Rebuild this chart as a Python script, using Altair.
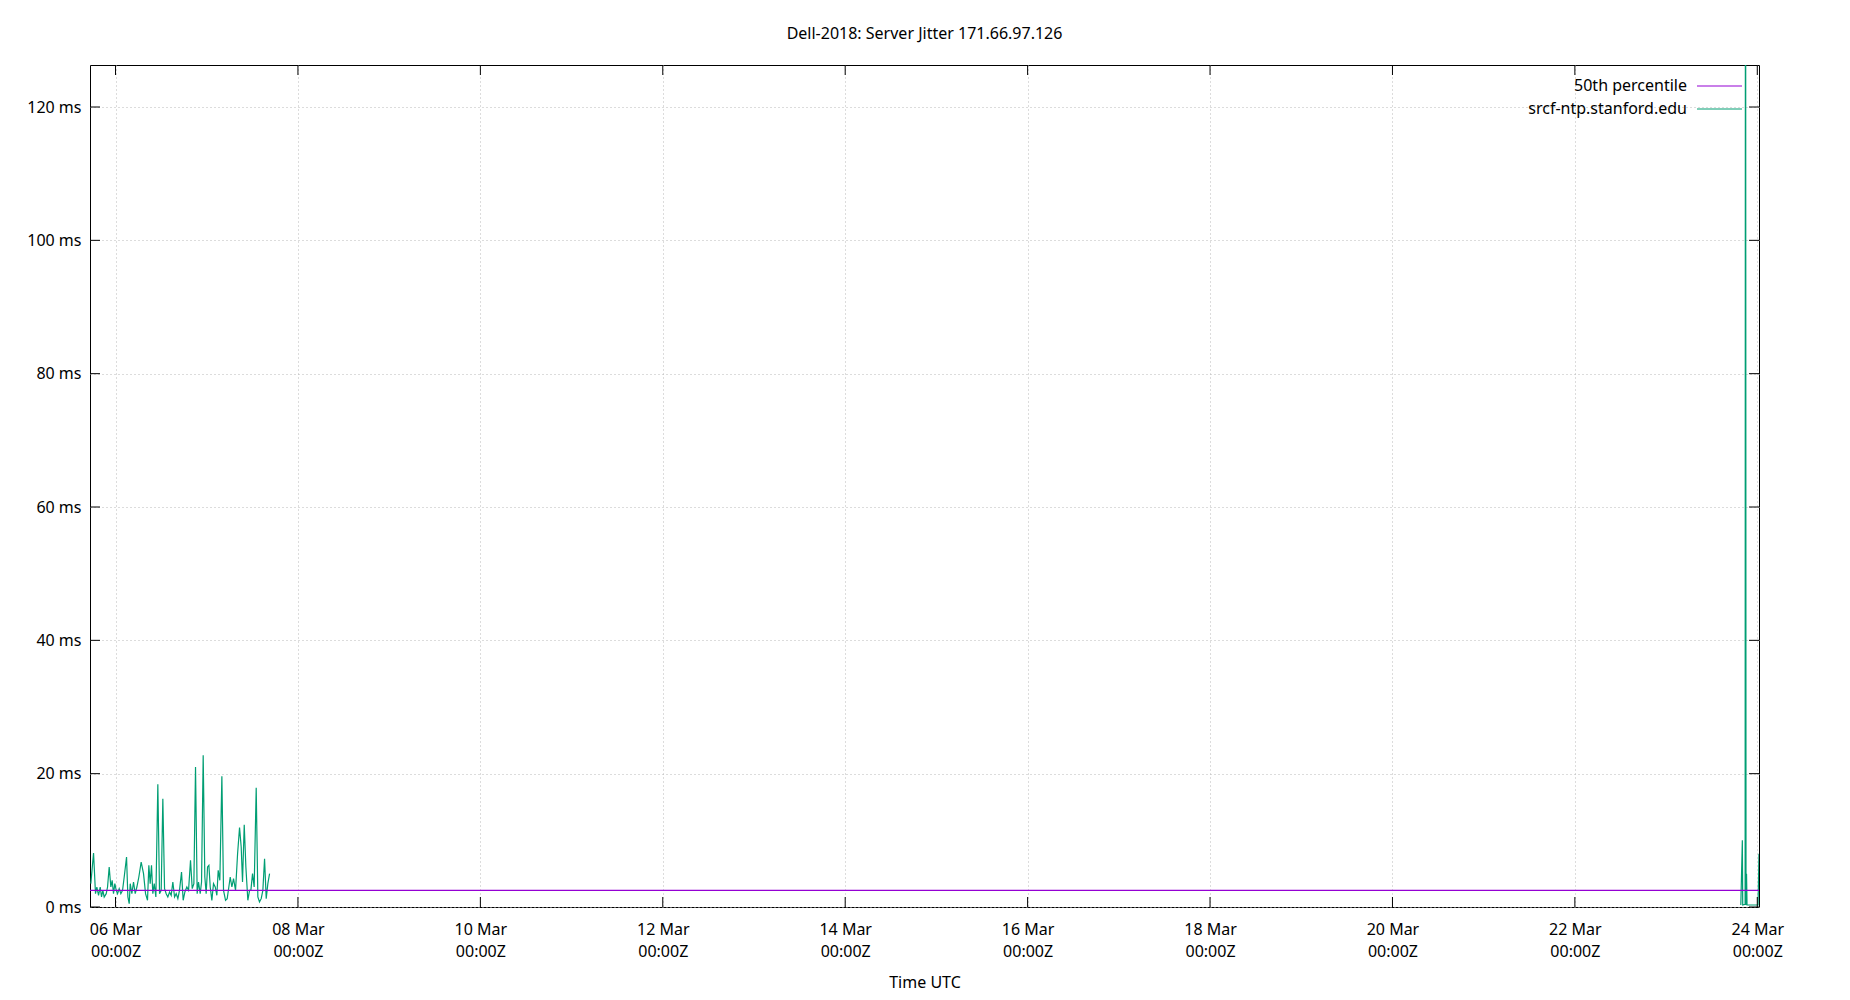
import altair as alt
import pandas as pd

title_text = "Dell-2018: Server Jitter 171.66.97.126"
series_names = ["50th percentile", "srcf-ntp.stanford.edu"]
series_colors = ["#9400d3", "#009e73"]
x_title = "Time UTC"

# srcf-ntp.stanford.edu jitter, first block (day "DDTHH:MM" in March 2018, UTC)
times_a = [
    "05T17:30", "05T18:13", "05T18:44", "05T19:05", "05T19:32", "05T19:58", "05T20:19", "05T20:40", "05T21:01", "05T21:33",
    "05T21:54", "05T22:20", "05T22:46", "05T23:07", "05T23:28", "05T23:49", "06T00:11", "06T00:32", "06T00:58", "06T01:24",
    "06T01:51", "06T02:17", "06T02:54", "06T03:15", "06T03:36", "06T03:52", "06T04:18", "06T04:44", "06T05:11", "06T05:37",
    "06T06:08", "06T06:45", "06T07:22", "06T07:54", "06T08:25", "06T08:46", "06T09:07", "06T09:28", "06T09:49", "06T10:11",
    "06T10:37", "06T11:08", "06T11:35", "06T12:01", "06T12:27", "06T12:54", "06T13:20", "06T13:46", "06T14:13", "06T14:39",
    "06T15:05", "06T15:32", "06T15:58", "06T16:24", "06T16:50", "06T17:22", "06T17:48", "06T18:15", "06T18:46", "06T19:13",
    "06T19:44", "06T20:11", "06T20:37", "06T21:03", "06T21:29", "06T21:50", "06T22:17", "06T22:38", "06T23:04", "06T23:30",
    "06T23:51", "07T00:13", "07T00:34", "07T00:55", "07T01:21", "07T01:47", "07T02:14", "07T02:40", "07T03:01", "07T03:27",
    "07T03:59", "07T04:25", "07T04:57", "07T05:23", "07T05:49", "07T06:11", "07T06:37", "07T07:03", "07T07:35", "07T08:07",
    "07T08:38", "07T09:04", "07T09:25", "07T09:52", "07T10:18", "07T10:49", "07T11:16", "07T11:37", "07T12:03", "07T12:29",
    "07T13:01", "07T13:27", "07T13:53", "07T14:20", "07T14:46", "07T15:13", "07T15:39", "07T16:05", "07T16:32",
]
vals_a = [
    3.5, 8.1, 2.0, 3.0, 1.75, 3.0, 1.5, 2.5, 1.5, 2.0,
    3.0, 6.0, 3.0, 4.0, 2.0, 3.5, 2.5, 2.0, 2.75, 2.0,
    2.5, 4.5, 7.5, 1.5, 0.5, 3.5, 2.0, 3.75, 2.0, 3.0,
    4.5, 6.75, 5.0, 2.0, 1.0, 6.25, 3.5, 6.25, 2.0, 3.5,
    1.5, 18.4, 2.0, 2.5, 16.25, 2.75, 2.0, 1.5, 2.25, 1.75,
    3.75, 1.5, 2.0, 1.25, 2.5, 5.25, 1.0, 2.25, 3.0, 2.5,
    7.0, 2.75, 3.5, 21.0, 2.0, 3.75, 2.0, 3.75, 22.75, 4.5,
    2.0, 6.0, 6.25, 3.0, 1.0, 3.5, 3.0, 1.75, 5.5, 4.0,
    19.6, 2.5, 1.0, 1.25, 3.0, 4.5, 3.0, 4.25, 2.5, 8.0,
    11.9, 9.0, 3.75, 12.35, 6.0, 1.0, 2.5, 2.5, 5.0, 3.0,
    17.9, 1.5, 0.75, 1.25, 2.5, 7.25, 1.25, 3.5, 5.0,
]
# second block, at the right end
times_b = ["23T19:40", "23T20:04", "23T20:10", "23T20:48", "23T20:54", "23T21:02", "23T21:10", "23T21:18", "24T00:12", "24T00:27"]
vals_b = [0.3, 10.0, 0.3, 0.4, 200.0, 0.3, 5.0, 0.3, 0.3, 8.0]

median_times = ["05T17:17", "24T00:27"]
median_vals = [2.5, 2.5]

tick_days = [6, 8, 10, 12, 14, 16, 18, 20, 22, 24]
y_ticks = [0, 20, 40, 60, 80, 100, 120]

W, H = 1669, 842
FONT = "Noto Sans"
GRID = "#b8b8b8"


def iso(s):
    return "2018-03-" + s + ":00Z"


rows = []
for t, v in zip(times_a, vals_a):
    rows.append({"time": iso(t), "value": v, "series": series_names[1], "seg": "a"})
for t, v in zip(times_b, vals_b):
    rows.append({"time": iso(t), "value": v, "series": series_names[1], "seg": "b"})
df_lines = pd.DataFrame(rows)
df_median = pd.DataFrame({"time": [iso(t) for t in median_times], "value": median_vals,
                          "series": series_names[0], "seg": "m"})

x_dom = [alt.DateTime(year=2018, month=3, date=5, hours=17, minutes=17, utc=True),
         alt.DateTime(year=2018, month=3, date=24, hours=0, minutes=27, utc=True)]
x_scale = alt.Scale(type="utc", domain=x_dom)
y_scale = alt.Scale(domain=[0, 126.3], nice=False, zero=True)
color_scale = alt.Scale(domain=series_names, range=series_colors)

x_axis = alt.Axis(
    values=[alt.DateTime(year=2018, month=3, date=d, utc=True) for d in tick_days],
    labelExpr="[utcFormat(datum.value, '%d %b'), utcFormat(datum.value, '%H:%MZ')]",
    ticks=False, domain=False, grid=True, gridDash=[1, 3], gridColor=GRID, gridWidth=1,
    labelFont=FONT, labelFontSize=16, labelColor="black", labelPadding=14, labelLineHeight=22,
    labelFlush=False, labelOverlap=False, labelBound=False,
    title=x_title, titleFont=FONT, titleFontSize=16, titleFontWeight="normal", titleColor="black",
    titlePadding=15,
)
y_axis = alt.Axis(
    values=y_ticks, labelExpr="datum.value + ' ms'",
    ticks=False, domain=False, grid=True, gridDash=[1, 3], gridColor=GRID, gridWidth=1,
    labelFont=FONT, labelFontSize=16, labelColor="black", labelPadding=9, title=None,
)


def X(field):
    return alt.X(field, scale=x_scale, axis=x_axis, title=x_title)


def Y(field):
    return alt.Y(field, scale=y_scale, axis=y_axis, title=None)


jitter = alt.Chart(df_lines).mark_line(strokeWidth=1.2, clip=True).encode(
    x=X("time:T"),
    y=Y("value:Q"),
    color=alt.Color("series:N", scale=color_scale, legend=None),
    detail="seg:N",
)
median = alt.Chart(df_median).mark_line(strokeWidth=1.2, clip=True).encode(
    x=X("time:T"),
    y=Y("value:Q"),
    color=alt.Color("series:N", scale=color_scale, legend=None),
)

# inward ticks (bottom/top, left/right)
df_xt = pd.DataFrame({"time": [iso("%02dT00:00" % d) for d in tick_days]})
df_yt = pd.DataFrame({"value": y_ticks})
xt_bottom = alt.Chart(df_xt).mark_rule(color="black", strokeWidth=1).encode(
    x=X("time:T"), y=alt.value(H - 10), y2=alt.value(H))
xt_top = alt.Chart(df_xt).mark_rule(color="black", strokeWidth=1).encode(
    x=X("time:T"), y=alt.value(0), y2=alt.value(10))
yt_left = alt.Chart(df_yt).mark_rule(color="black", strokeWidth=1).encode(
    y=Y("value:Q"), x=alt.value(0), x2=alt.value(10))
yt_right = alt.Chart(df_yt).mark_rule(color="black", strokeWidth=1).encode(
    y=Y("value:Q"), x=alt.value(W - 10), x2=alt.value(W))

# legend inside top-right, label left of sample line
legend_layers = []
for i, (name, col) in enumerate(zip(series_names, series_colors)):
    ly = 21 + 23 * i
    legend_layers.append(
        alt.Chart(pd.DataFrame({"name": [name]})).mark_text(
            align="right", baseline="middle", font=FONT, fontSize=16, color="black"
        ).encode(text="name:N", x=alt.value(1597), y=alt.value(ly))
    )
    legend_layers.append(
        alt.Chart(pd.DataFrame({"name": [name]})).mark_rule(color=col, strokeWidth=1.2).encode(
            x=alt.value(1607), x2=alt.value(1652), y=alt.value(ly))
    )

chart = alt.layer(
    jitter, median, xt_bottom, xt_top, yt_left, yt_right, *legend_layers
).properties(
    width=W, height=H,
    title=alt.TitleParams(text=title_text, font=FONT, fontSize=16, fontWeight="normal",
                          anchor="middle", color="black", offset=23),
    autosize=alt.AutoSizeParams(type="none"),
    padding={"left": 82, "top": 57, "right": 80, "bottom": 85},
).configure_view(stroke="black", strokeWidth=1)

chart.save("out.html", embed_options={"renderer": "svg", "actions": False})
